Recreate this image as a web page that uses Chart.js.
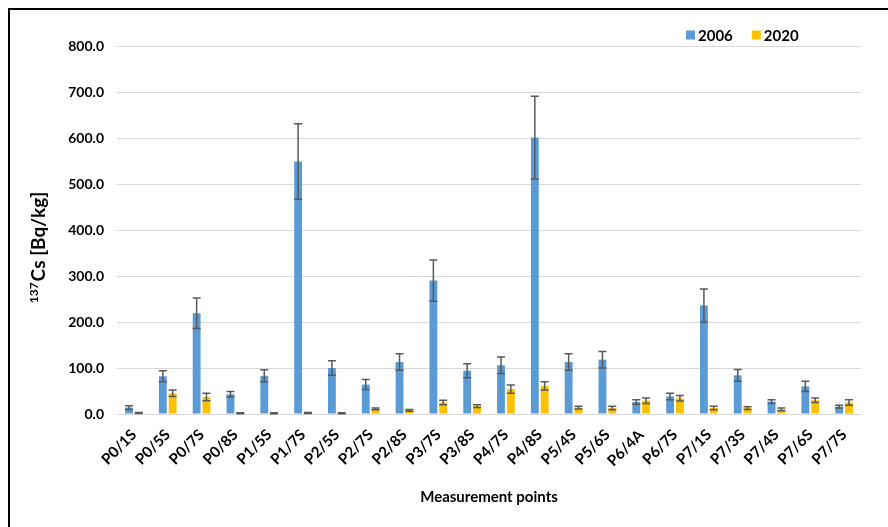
<!DOCTYPE html>
<html>
<head>
<meta charset="utf-8">
<script src="https://cdn.jsdelivr.net/npm/chart.js@4/dist/chart.umd.min.js"></script>
<style>
  html, body { margin: 0; padding: 0; background: #ffffff; }
  #wrap { position: relative; width: 888px; height: 527px; }
</style>
</head>
<body>
<div id="wrap"><canvas id="chart" width="888" height="527"></canvas></div>
<script>
// Measurement points
const categories = ['P0/1S','P0/5S','P0/7S','P0/8S','P1/5S','P1/7S','P2/5S','P2/7S','P2/8S',
  'P3/7S','P3/8S','P4/7S','P4/8S','P5/4S','P5/6S','P6/4A','P6/7S','P7/1S','P7/3S','P7/4S','P7/6S','P7/7S'];

// 137Cs activity, Bq/kg
const cs2006 = [14, 82, 219, 43, 83, 549, 100, 64, 113, 290, 94, 106, 601, 113, 118, 26, 38, 236, 84, 27, 60, 16];
const err2006 = [4, 12, 33, 6, 13, 82, 16, 11, 18, 45, 15, 18, 90, 18, 18, 5, 7, 36, 13, 4, 11, 3];
const cs2020 = [2, 45, 37, 1.5, 1.5, 2, 1.5, 11, 8, 25, 17, 54, 61, 14, 13, 29, 34, 13, 13, 10, 30, 25];
const err2020 = [1, 7, 8, 1, 1, 1, 1, 2, 2, 5, 3, 9, 9, 3, 4, 6, 6, 4, 3, 3, 5, 6];

const seriesLabels = ['2006', '2020'];
const yTicks = [0, 100, 200, 300, 400, 500, 600, 700, 800];

const FONT = 'Lato, "Open Sans", sans-serif';

// Frame lines along the top and left edges
const framePlugin = {
  id: 'frame',
  beforeDraw(chart) {
    const ctx = chart.ctx;
    ctx.save();
    ctx.fillStyle = '#ffffff';
    ctx.fillRect(0, 0, chart.width, chart.height);
    ctx.strokeStyle = '#000000';
    ctx.lineWidth = 2;
    ctx.beginPath();
    ctx.moveTo(9, chart.height);
    ctx.lineTo(9, 9);
    ctx.lineTo(chart.width, 9);
    ctx.stroke();
    ctx.restore();
  }
};

// Error bars with caps, drawn from the error arrays through the y scale
const errorBarPlugin = {
  id: 'errorBars',
  afterDatasetsDraw(chart) {
    const ctx = chart.ctx;
    const y = chart.scales.y;
    ctx.save();
    ctx.strokeStyle = '#595959';
    ctx.lineWidth = 1.5;
    chart.data.datasets.forEach((ds, di) => {
      const meta = chart.getDatasetMeta(di);
      meta.data.forEach((bar, i) => {
        const v = ds.data[i], e = ds.errors[i];
        const yTop = y.getPixelForValue(v + e);
        const yBot = y.getPixelForValue(Math.max(0, v - e));
        const x = bar.x, cap = 4;
        ctx.beginPath();
        ctx.moveTo(x, yTop); ctx.lineTo(x, yBot);
        ctx.moveTo(x - cap, yTop); ctx.lineTo(x + cap, yTop);
        ctx.moveTo(x - cap, yBot); ctx.lineTo(x + cap, yBot);
        ctx.stroke();
      });
    });
    ctx.restore();
  }
};

// Legend and y-axis title with superscript mass number
const annotatePlugin = {
  id: 'annotate',
  afterDraw(chart) {
    const ctx = chart.ctx;
    ctx.save();
    // legend
    ctx.font = 'bold 15px ' + FONT;
    ctx.textBaseline = 'middle';
    ctx.textAlign = 'left';
    let lx = 686;
    const ly = 35;
    chart.data.datasets.forEach((ds) => {
      ctx.fillStyle = ds.backgroundColor;
      ctx.fillRect(lx, ly - 4.5, 9, 9);
      ctx.fillStyle = '#000000';
      ctx.fillText(ds.label, lx + 12, ly + 1);
      lx += 12 + ctx.measureText(ds.label).width + 19;
    });
    // y title
    ctx.translate(45, 248);
    ctx.rotate(-Math.PI / 2);
    const supFont = 'bold 12px ' + FONT;
    const mainFont = 'bold 19px ' + FONT;
    ctx.font = supFont;
    const wSup = ctx.measureText('137').width;
    ctx.font = mainFont;
    const wMain = ctx.measureText('Cs [Bq/kg]').width;
    const x0 = -(wSup + wMain) / 2;
    ctx.textBaseline = 'alphabetic';
    ctx.fillStyle = '#000000';
    ctx.font = supFont;
    ctx.fillText('137', x0, -7);
    ctx.font = mainFont;
    ctx.fillText('Cs [Bq/kg]', x0 + wSup + 1, 0);
    ctx.restore();
  }
};

new Chart(document.getElementById('chart'), {
  type: 'bar',
  data: {
    labels: categories,
    datasets: [
      { label: seriesLabels[0], data: cs2006, errors: err2006, backgroundColor: '#5b9bd5' },
      { label: seriesLabels[1], data: cs2020, errors: err2020, backgroundColor: '#ffc000' }
    ]
  },
  options: {
    responsive: false,
    animation: false,
    layout: { padding: { left: 10, right: 27, top: 46, bottom: 0 } },
    datasets: { bar: { categoryPercentage: 0.58, barPercentage: 0.8 } },
    plugins: {
      legend: { display: false },
      tooltip: { enabled: false }
    },
    scales: {
      x: {
        grid: { display: false },
        border: { color: '#d9d9d9', width: 1 },
        ticks: {
          color: '#000000',
          font: { family: FONT, size: 15, weight: 'bold' },
          minRotation: 45, maxRotation: 45, padding: 4, autoSkip: false
        },
        title: {
          display: true, text: 'Measurement points', color: '#000000',
          font: { family: FONT, size: 15, weight: 'bold' },
          padding: { top: 0, bottom: 21 }
        },
        afterFit(scale) { scale.height = 113; }
      },
      y: {
        min: 0, max: 800,
        afterBuildTicks(scale) { scale.ticks = yTicks.map(v => ({ value: v })); },
        grid: { color: '#d9d9d9', lineWidth: 1, drawTicks: false },
        border: { display: false },
        ticks: {
          color: '#000000',
          font: { family: FONT, size: 14, weight: 'bold' },
          padding: 13,
          callback: (v) => Number(v).toFixed(1)
        },
        afterFit(scale) { scale.width = 107; }
      }
    }
  },
  plugins: [framePlugin, errorBarPlugin, annotatePlugin]
});
</script>
</body>
</html>
